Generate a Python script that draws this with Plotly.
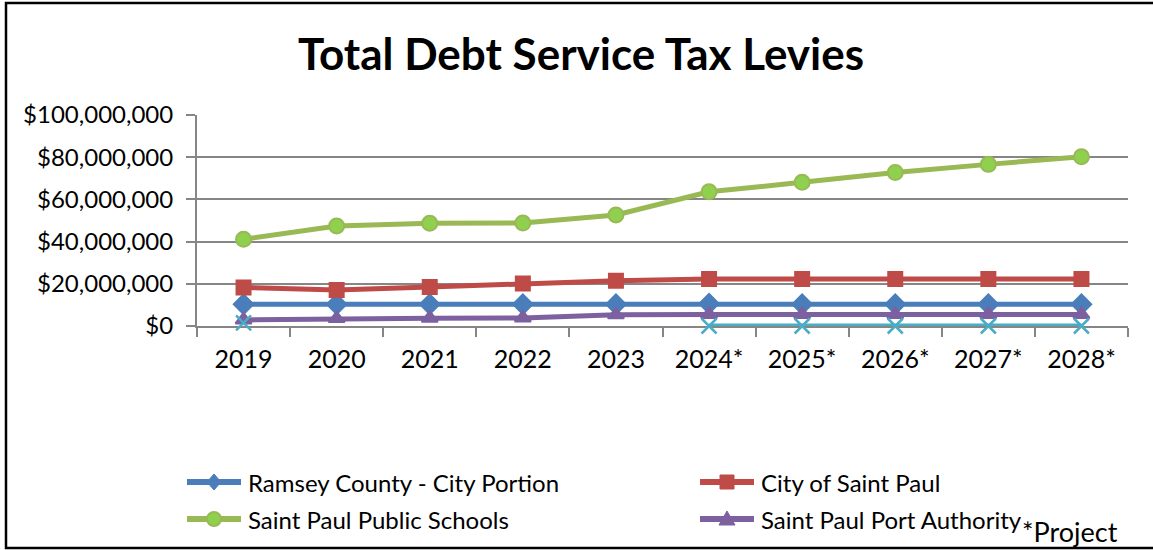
import plotly.graph_objects as go

# Levy years (asterisk = projected)
years = ["2019", "2020", "2021", "2022", "2023", "2024*", "2025*", "2026*", "2027*", "2028*"]

# Debt service tax levies, dollars
ramsey_county = [10.3e6, 10.3e6, 10.3e6, 10.3e6, 10.3e6, 10.6e6, 10.3e6, 10.3e6, 10.3e6, 10.3e6]
city_saint_paul = [18.3e6, 17.1e6, 18.5e6, 20.2e6, 21.4e6, 22.3e6, 22.3e6, 22.3e6, 22.3e6, 22.3e6]
public_schools = [41.1e6, 47.4e6, 48.7e6, 48.8e6, 52.6e6, 63.6e6, 68.1e6, 72.8e6, 76.6e6, 80.2e6]
port_authority = [2.9e6, 3.5e6, 3.7e6, 3.8e6, 5.3e6, 5.5e6, 5.5e6, 5.5e6, 5.5e6, 5.5e6]
other_levy = [1.5e6, None, None, None, None, 0, 0, 0, 0, 0]

series_names = ["Ramsey County - City Portion", "City of Saint Paul",
                "Saint Paul Public Schools", "Saint Paul Port Authority"]

y_ticks = [0, 20e6, 40e6, 60e6, 80e6, 100e6]
y_tick_text = ["$0", "$20,000,000", "$40,000,000", "$60,000,000", "$80,000,000", "$100,000,000"]

FONT = "Lato, Calibri, 'Open Sans', sans-serif"
GRID = "#868686"

# Plot area spans x 197..1128 px, y 115..326 px
W, H = 1153, 550
L, R, T, B = 197, W - 1128, 115, H - 326
pw, ph = W - L - R, H - T - B


def px_x(p):
    return (p - L) / pw


def px_y(p):
    return (H - B - p) / ph


styles = [
    # line colour, fill colour, symbol, size
    ("#4A7EBB", "#4A7EBB", "diamond", 15),
    ("#BE4B48", "#BE4B48", "square", 14),
    ("#98B954", "#8FD14F", "circle", 15),
    ("#7D60A0", "#7D60A0", "triangle-up", 14),
]
values = [ramsey_county, city_saint_paul, public_schools, port_authority]

fig = go.Figure()
for name, vals, (line_c, fill_c, sym, size) in zip(series_names, values, styles):
    fig.add_trace(go.Scatter(
        x=years, y=vals, name=name, mode="lines+markers",
        line=dict(color=line_c, width=5),
        marker=dict(symbol=sym, size=size, color=fill_c,
                    line=dict(color=line_c, width=2)),
        showlegend=False, cliponaxis=False,
    ))

fig.add_trace(go.Scatter(
    x=years, y=other_levy, name="Other", mode="lines+markers",
    line=dict(color="#4BACC6", width=5),
    marker=dict(symbol="x-thin", size=15, color="#4BACC6",
                line=dict(color="#4BACC6", width=2.5)),
    showlegend=False, connectgaps=False, cliponaxis=False,
))

# Legend drawn as shapes + text, two columns
shapes = [dict(type="rect", xref="paper", yref="paper",
               x0=px_x(6), x1=px_x(1165), y0=px_y(548), y1=px_y(3),
               line=dict(color="black", width=2.5), fillcolor="rgba(0,0,0,0)")]
annotations = []
legend_pos = [(187, 482), (700, 482), (187, 519), (700, 519)]
sym_paths = {
    "diamond": "M0,8 L7,0 L0,-8 L-7,0 Z",
    "square": "M-7,-7 L7,-7 L7,7 L-7,7 Z",
    "triangle-up": "M0,8 L8,-6 L-8,-6 Z",
}
for name, (line_c, fill_c, sym, size), (lx, ly) in zip(series_names, styles, legend_pos):
    cx, cy = px_x(lx + 27), px_y(ly)
    shapes.append(dict(type="line", xref="paper", yref="paper",
                       x0=px_x(lx), x1=px_x(lx + 54), y0=cy, y1=cy,
                       line=dict(color=line_c, width=6)))
    if sym == "circle":
        shapes.append(dict(type="circle", xref="paper", yref="paper",
                           xsizemode="pixel", ysizemode="pixel", xanchor=cx, yanchor=cy,
                           x0=-7, x1=7, y0=-7, y1=7,
                           fillcolor=fill_c, line=dict(color=line_c, width=2)))
    else:
        shapes.append(dict(type="path", xref="paper", yref="paper",
                           xsizemode="pixel", ysizemode="pixel", xanchor=cx, yanchor=cy,
                           path=sym_paths[sym], fillcolor=fill_c,
                           line=dict(color=line_c, width=1)))
    annotations.append(dict(text=name, xref="paper", yref="paper",
                            x=px_x(lx + 59), y=cy, xanchor="left", yanchor="middle",
                            showarrow=False, font=dict(size=24, family=FONT)))

annotations.append(dict(text="*Project", xref="paper", yref="paper",
                        x=px_x(1020), y=px_y(531), xanchor="left", yanchor="middle",
                        showarrow=False, font=dict(size=27, family=FONT)))

fig.update_layout(
    width=W, height=H,
    margin=dict(l=L, r=R, t=T, b=B),
    paper_bgcolor="white", plot_bgcolor="white",
    font=dict(family=FONT, color="black"),
    title=dict(text="<b>Total Debt Service Tax Levies</b>", x=581 / W, xanchor="center",
               y=1 - 55 / H, yanchor="middle", font=dict(size=44, family=FONT)),
    showlegend=False,
    xaxis=dict(
        type="category", range=[-0.5, 9.5], showgrid=False,
        showline=True, linecolor=GRID, linewidth=2, layer="below traces",
        ticks="outside", tickson="boundaries", ticklen=9, tickcolor=GRID, tickwidth=2,
        tickfont=dict(size=25, family=FONT), ticklabelstandoff=10, fixedrange=True,
    ),
    yaxis=dict(
        range=[0, 100e6], tickvals=y_ticks, ticktext=y_tick_text,
        showgrid=True, gridcolor=GRID, gridwidth=2,
        showline=True, linecolor=GRID, linewidth=2, layer="below traces",
        ticks="outside", ticklen=9, tickcolor=GRID, tickwidth=2,
        tickfont=dict(size=24, family=FONT), ticklabelstandoff=8, zeroline=False,
    ),
    shapes=shapes,
    annotations=annotations,
)

fig.write_html("out.html")
